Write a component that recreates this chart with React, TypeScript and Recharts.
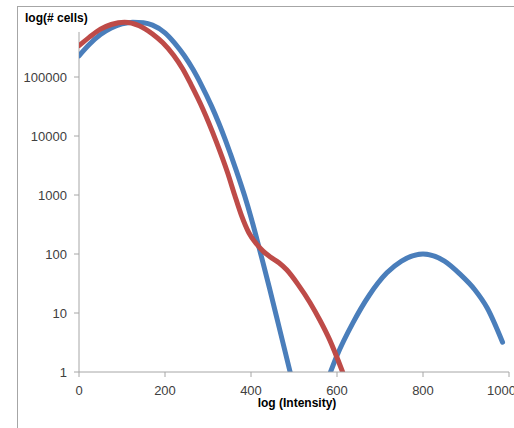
import { Line, LineChart, ReferenceLine, XAxis, YAxis } from "recharts"

// values (x = log intensity, y = # cells)
const blueX = [0, 25, 50, 75, 100, 125, 150, 171, 200, 222, 245, 265, 285, 308, 325, 339, 352, 366, 385, 400, 413, 428, 443, 465, 491, 535, 585, 600, 637, 675, 716, 750, 800, 850, 886, 920, 949, 985]
const blueY = [229000, 363000, 525000, 676000, 794000, 851000, 832000, 759000, 562000, 380000, 229000, 135000, 72400, 32400, 16600, 9120, 5010, 2570, 977, 417, 186, 70.8, 26.3, 5.9, 1, null, 1, 1.9, 6.8, 20, 47.9, 75.9, 100, 75.9, 45.7, 25.1, 12.3, 3.2]

const redX = [0, 25, 50, 75, 106, 140, 171, 195, 220, 241, 260, 288, 319, 346, 362, 378, 395, 413, 428, 445, 465, 483, 510, 537, 560, 583, 613]
const redY = [339000, 479000, 646000, 776000, 851000, 741000, 537000, 380000, 234000, 138000, 75900, 28800, 8130, 2340, 1000, 447, 229, 148, 112, 89, 71, 54, 30, 15.1, 7.6, 3.5, 1]

const xTicks = [0, 200, 400, 600, 800, 1000]
const yTicks = [1, 10, 100, 1000, 10000, 100000]

const blue = blueX.map((x, i) => ({ x, y: blueY[i] }))
const red = redX.map((x, i) => ({ x, y: redY[i] }))

const font = "'Liberation Sans', Arial, sans-serif"
const axisGray = "#a6a6a6"
const labelColor = "#404040"

// the last x label runs off the right edge of the picture
function XTick(props: any) {
  const { x, y, payload } = props
  const last = payload.value === 1000
  return (
    <text
      x={last ? 516 : x}
      y={y}
      dy="0.71em"
      textAnchor={last ? "end" : "middle"}
      fontSize={13}
      fontFamily={font}
      fill={labelColor}
    >
      {payload.value}
    </text>
  )
}

export default function App() {
  return (
    <div style={{ position: "absolute", left: 0, top: 0, width: 514, height: 428, background: "#fff", fontFamily: font }}>
      {/* chart frame, cropped at right and bottom */}
      <div
        style={{
          position: "absolute",
          left: 17,
          top: 6,
          width: 497,
          height: 422,
          borderTop: `1px solid ${axisGray}`,
          borderLeft: `1px solid ${axisGray}`,
        }}
      />
      <LineChart width={514} height={428} data={blue} margin={{ top: 18, right: 5, left: 19, bottom: 26 }}>
        <XAxis
          dataKey="x"
          type="number"
          domain={[0, 1000]}
          ticks={xTicks}
          stroke={axisGray}
          tickSize={5}
          tickMargin={9}
          tick={<XTick />}
          height={30}
          allowDataOverflow
        />
        <YAxis
          type="number"
          scale="log"
          domain={[1, 1000000]}
          ticks={yTicks}
          axisLine={false}
          stroke={axisGray}
          tickSize={5}
          tickMargin={7}
          fontSize={13}
          tick={{ fontSize: 13, fill: labelColor, fontFamily: font }}
          width={60}
          allowDataOverflow
        />
        <ReferenceLine segment={[{ x: 0, y: 1 }, { x: 0, y: 580000 }]} stroke={axisGray} />
        <Line
          data={blue}
          dataKey="y"
          type="monotone"
          stroke="#4a7ebb"
          strokeWidth={5}
          strokeLinecap="round"
          dot={false}
          connectNulls={false}
          isAnimationActive={false}
        />
        <Line
          data={red}
          dataKey="y"
          type="monotone"
          stroke="#be4b48"
          strokeWidth={5}
          strokeLinecap="round"
          dot={false}
          isAnimationActive={false}
        />
      </LineChart>
      <div style={{ position: "absolute", left: 25, top: 12, fontSize: 12, lineHeight: "12px", fontWeight: "bold", color: "#000" }}>
        log(# cells)
      </div>
      <div
        style={{
          position: "absolute",
          left: 247,
          top: 397,
          width: 100,
          textAlign: "center",
          fontSize: 12,
          lineHeight: "12px",
          fontWeight: "bold",
          color: "#000",
        }}
      >
        log (Intensity)
      </div>
    </div>
  )
}
